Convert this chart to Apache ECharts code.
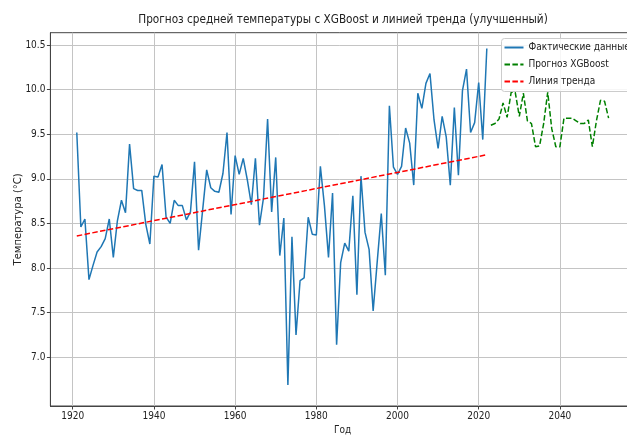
<!DOCTYPE html>
<html>
<head>
<meta charset="utf-8">
<script src="https://cdn.jsdelivr.net/npm/echarts@6/dist/echarts.min.js"></script>
<style>
html,body{margin:0;padding:0;background:#fff;}
#chart{width:627px;height:435px;}
</style>
</head>
<body>
<div id="chart"></div>
<script>
// ---- data ----
const actualStartYear = 1921;
const actualTemps = [
  9.52, 8.46, 8.55, 7.87, 8.03, 8.18, 8.24, 8.33, 8.55, 8.12,
  8.53, 8.76, 8.62, 9.39, 8.89, 8.87, 8.87, 8.49, 8.27, 9.03,
  9.02, 9.16, 8.57, 8.50, 8.76, 8.70, 8.70, 8.54, 8.63, 9.19,
  8.20, 8.65, 9.10, 8.90, 8.86, 8.85, 9.06, 9.52, 8.60, 9.26,
  9.05, 9.23, 8.99, 8.71, 9.23, 8.48, 8.79, 9.67, 8.63, 9.24,
  8.14, 8.56, 6.69, 8.35, 7.25, 7.86, 7.89, 8.57, 8.38, 8.37,
  9.14, 8.70, 8.12, 8.84, 7.14, 8.06, 8.28, 8.19, 8.81, 7.70,
  9.03, 8.40, 8.21, 7.52, 8.07, 8.61, 7.92, 9.82, 9.13, 9.05,
  9.14, 9.57, 9.40, 8.93, 9.96, 9.79, 10.07, 10.18, 9.66, 9.34,
  9.70, 9.47, 8.93, 9.80, 9.04, 9.99, 10.23, 9.52, 9.63, 10.08,
  9.44, 10.46
];
const forecastStartYear = 2023;
const forecastTemps = [
  9.60, 9.62, 9.67, 9.85, 9.69, 9.97, 9.97, 9.70, 9.96, 9.65,
  9.62, 9.36, 9.37, 9.62, 9.97, 9.56, 9.36, 9.36, 9.68, 9.68,
  9.68, 9.65, 9.62, 9.62, 9.66, 9.36, 9.65, 9.88, 9.87, 9.68
];
const trendYears = [1921, 2022];
const trendTemps = [8.36, 9.27];
const xTickValues = [1920, 1940, 1960, 1980, 2000, 2020, 2040];
const yTickValues = [7.0, 7.5, 8.0, 8.5, 9.0, 9.5, 10.0, 10.5];
const seriesNames = ['Фактические данные', 'Прогноз XGBoost', 'Линия тренда'];
const titleText = 'Прогноз средней температуры с XGBoost и линией тренда (улучшенный)';
const xName = 'Год';
const yName = 'Температура (°C)';

// ---- build ----
const pairs = (start, vals) => vals.map((v, i) => [start + i, v]);
const actualData = pairs(actualStartYear, actualTemps);
const forecastData = pairs(forecastStartYear, forecastTemps);
const trendData = trendYears.map((y, i) => [y, trendTemps[i]]);

const FONT = '"DejaVu Sans Condensed", "DejaVu Sans", sans-serif';
const gridColor = '#c4c4c4';
const spineColor = '#444';

const chart = echarts.init(document.getElementById('chart'), null, {renderer: 'canvas'});
chart.setOption({
  animation: false,
  backgroundColor: '#ffffff',
  title: {
    text: titleText,
    left: 343,
    top: 14,
    padding: 0,
    textAlign: 'center',
    textStyle: {fontFamily: FONT, fontSize: 11.7, fontWeight: 'normal', color: '#222'}
  },
  grid: {
    left: 50.4, top: 32.7, width: 584.6, height: 373.3,
    containLabel: false,
    outerBoundsMode: 'none',
    show: true, borderColor: spineColor, borderWidth: 1, backgroundColor: 'transparent'
  },
  legend: {
    orient: 'vertical',
    left: 501.5, top: 38.5,
    padding: [4, 8, 5, 2],
    itemWidth: 19, itemHeight: 10, itemGap: 7,
    itemStyle: {opacity: 0},
    backgroundColor: 'rgba(255,255,255,0.85)',
    borderColor: '#cccccc', borderWidth: 1, borderRadius: 3,
    textStyle: {fontFamily: FONT, fontSize: 10, color: '#222'},
    data: seriesNames
  },
  xAxis: {
    type: 'value',
    min: 1914.5, max: 2058.5,
    name: xName, nameLocation: 'middle', nameGap: 19, nameMoveOverlap: false,
    nameTextStyle: {fontFamily: FONT, fontSize: 10, color: '#222'},
    axisLine: {show: true, onZero: false, lineStyle: {color: spineColor, width: 1}},
    axisTick: {show: true, customValues: xTickValues, length: 3.5, lineStyle: {color: spineColor}},
    axisLabel: {customValues: xTickValues, fontFamily: FONT, fontSize: 10, color: '#222', margin: 5,
      formatter: v => String(v)},
    splitLine: {show: true, lineStyle: {color: gridColor, width: 1}}
  },
  yAxis: {
    type: 'value',
    min: 6.454, max: 10.638,
    name: yName, nameLocation: 'middle', nameGap: 27, nameRotate: 90, nameMoveOverlap: false,
    nameTextStyle: {fontFamily: '"DejaVu Sans", sans-serif', fontSize: 10, color: '#222'},
    axisLine: {show: true, onZero: false, lineStyle: {color: spineColor, width: 1}},
    axisTick: {show: true, customValues: yTickValues, length: 3.5, lineStyle: {color: spineColor}},
    axisLabel: {customValues: yTickValues, fontFamily: FONT, fontSize: 10, color: '#222', margin: 5,
      formatter: v => v.toFixed(1)},
    splitLine: {show: true, lineStyle: {color: gridColor, width: 1}}
  },
  series: [
    {
      name: seriesNames[0], type: 'line', data: actualData, symbol: 'none',
      itemStyle: {color: '#1f77b4'},
      lineStyle: {color: '#1f77b4', width: 1.5}
    },
    {
      name: seriesNames[1], type: 'line', data: forecastData, symbol: 'none',
      itemStyle: {color: '#008000'},
      lineStyle: {color: '#008000', width: 1.5, type: [5.5, 2.4]}
    },
    {
      name: seriesNames[2], type: 'line', data: trendData, symbol: 'none',
      itemStyle: {color: '#ff0000'},
      lineStyle: {color: '#ff0000', width: 1.5, type: [5.5, 2.4]}
    }
  ]
});
</script>
</body>
</html>
